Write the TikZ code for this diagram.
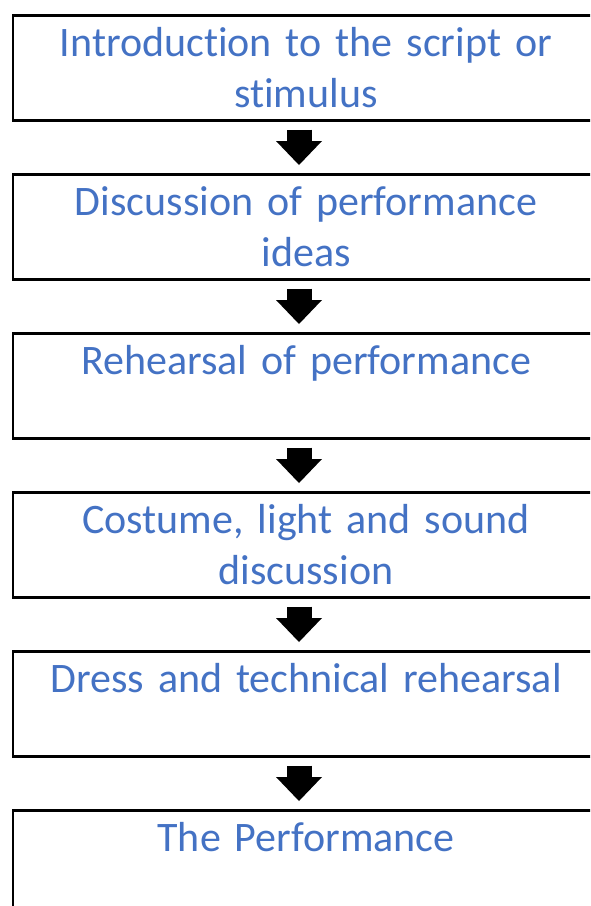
\documentclass[tikz,border=0pt]{standalone}
\usepackage{fontspec}
\setmainfont{Carlito}[Ligatures=NoCommon,WordSpace=0.8]
\usetikzlibrary{positioning,arrows.meta}
\definecolor{wordblue}{HTML}{4472C4}

\begin{document}
\begin{tikzpicture}[x=1pt,y=-1pt,node distance=51.5pt]
    \tikzstyle{stagebox}=[draw=black,line width=2.5pt,minimum width=586pt,inner xsep=6pt,inner ysep=11pt,
        text width=574pt,align=center,text height=30pt,text depth=53pt,text=wordblue,
        font=\fontsize{42}{51}\selectfont]
    \tikzstyle{blockarrow}=[line width=25pt,shorten <=8pt,shorten >=8pt,
        -{Triangle[width=46pt,length=24pt,line width=0pt 0 0]}]

    \clip (0,0) rectangle (590,906);

    \node[stagebox,anchor=north] (intro) at (306,14) {Introduction to the script or\\stimulus};
    \node[stagebox,below=of intro] (discuss) {Discussion of performance\\ideas};
    \node[stagebox,below=of discuss] (rehearse) {Rehearsal of performance};
    \node[stagebox,below=of rehearse] (costume) {Costume, light and sound\\discussion};
    \node[stagebox,below=of costume] (dress) {Dress and technical rehearsal};
    \node[stagebox,below=of dress] (perform) {The Performance};

    \draw[blockarrow] ([xshift=-7pt]intro.south) -- ([xshift=-7pt]discuss.north);
    \draw[blockarrow] ([xshift=-7pt]discuss.south) -- ([xshift=-7pt]rehearse.north);
    \draw[blockarrow] ([xshift=-7pt]rehearse.south) -- ([xshift=-7pt]costume.north);
    \draw[blockarrow] ([xshift=-7pt]costume.south) -- ([xshift=-7pt]dress.north);
    \draw[blockarrow] ([xshift=-7pt]dress.south) -- ([xshift=-7pt]perform.north);
\end{tikzpicture}
\end{document}
